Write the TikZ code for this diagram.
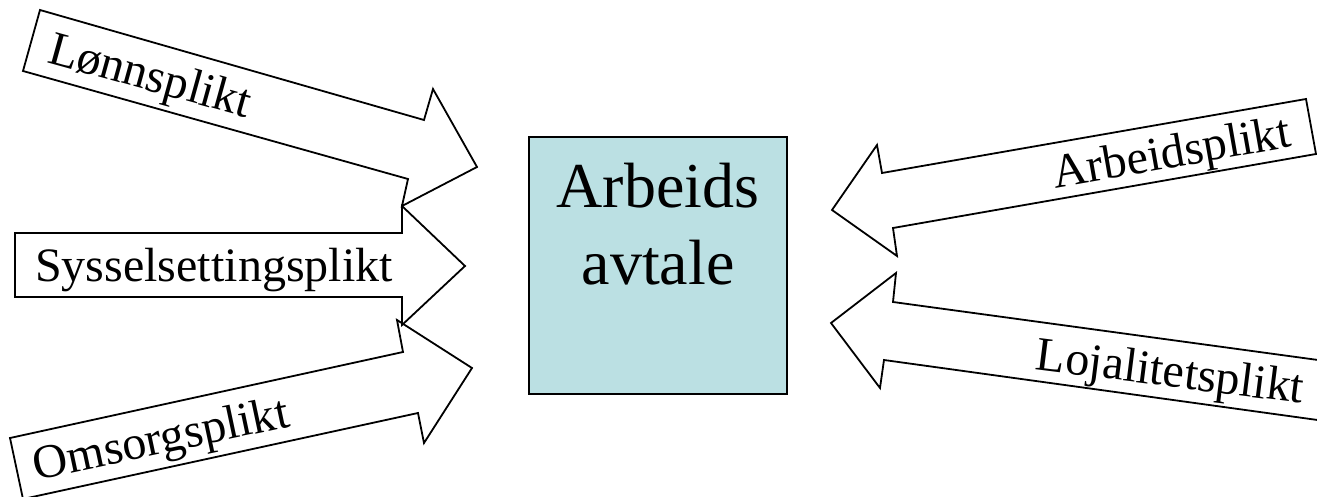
\documentclass[tikz,border=0pt]{standalone}
\usepackage{fontspec}
\setmainfont{Liberation Serif}
\usetikzlibrary{positioning}
\definecolor{avtaleblue}{RGB}{187,224,227}

\begin{document}
\begin{tikzpicture}[
  x=0.5pt, y=-0.5pt,
  blockarrow/.style={draw, line width=0.9pt, line join=miter},
  duty/.style={font=\fontsize{24}{28}\selectfont, inner sep=0pt, anchor=base},
  avtalebox/.style={
    draw,
    line width=0.9pt,
    fill=avtaleblue,
    minimum width=129pt,
    minimum height=128.5pt,
    inner sep=0pt
  }
]
\useasboundingbox (0,0) rectangle (1317,497);
\clip (0,0) rectangle (1317,497);

% central box
\node[avtalebox] (avtale) at (658,265.5) {};
\node[below=13.5pt of avtale.north, inner sep=0pt, align=center,
      font=\fontsize{32}{38.5}\selectfont] (avtaletxt) {Arbeids\\avtale};

% arrows from the left
\draw[blockarrow] (40,10) -- (424,120) -- (433,89) -- (477,167) -- (402,206) -- (408,179) -- (23,71) -- cycle;
\draw[blockarrow] (15,233) -- (402,233) -- (402,206) -- (465,266) -- (402,325) -- (402,297) -- (15,297) -- cycle;
\draw[blockarrow] (10,438) -- (403,352) -- (397,320) -- (472,368) -- (424,443) -- (418,413) -- (23,499) -- cycle;
\node[duty, rotate=-15.5] (lonn) at (146.5,90) {Lønnsplikt};
\node[duty] (syssel) at (214,282) {Sysselsettingsplikt};
\node[duty, rotate=12] (omsorg) at (164,453.5) {Omsorgsplikt};

% arrows from the right
\draw[blockarrow] (832,210) -- (877,145) -- (882,173) -- (1306,99) -- (1316,154) -- (893,228) -- (897,256) -- cycle;
\draw[blockarrow] (831,323) -- (896,273) -- (893,302) -- (1340,363) -- (1332,422) -- (884,360) -- (880,388) -- cycle;
\node[duty, rotate=10] (arbeid) at (1174,167.5) {Arbeidsplikt};
\node[duty, rotate=-7.2] (lojal) at (1168.5,386.5) {Lojalitetsplikt};
\end{tikzpicture}
\end{document}
